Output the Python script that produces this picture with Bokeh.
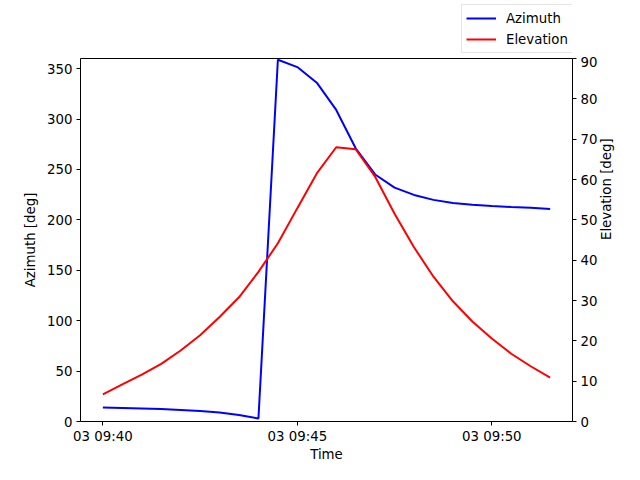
import math
import datetime as dt
from bokeh.plotting import figure
from bokeh.layouts import column
from bokeh.models import (Range1d, LinearAxis, FixedTicker, DatetimeTickFormatter,
                          Legend, LegendItem, ColumnDataSource)
from bokeh.embed import file_html
from bokeh.resources import INLINE

# ---- data ----
start = dt.datetime(2024, 1, 3, 9, 40, 0)
step_seconds = 30
azimuth = [14.0, 13.5, 13.0, 12.3, 11.5, 10.5, 9.0, 6.5, 3.0,
           358.7, 351.5, 336.0, 309.0, 271.0, 245.0, 232.0, 224.7,
           219.8, 216.6, 215.0, 213.7, 212.7, 212.0, 210.7]
elevation = [6.75, 9.2, 11.6, 14.3, 17.6, 21.4, 25.9, 30.8, 37.1,
             44.2, 52.9, 61.5, 68.0, 67.5, 60.7, 51.5, 43.2, 35.9,
             29.8, 24.8, 20.6, 16.8, 13.7, 10.9]
times = [start + dt.timedelta(seconds=step_seconds * i) for i in range(len(azimuth))]
x_ticks = [dt.datetime(2024, 1, 3, 9, 40), dt.datetime(2024, 1, 3, 9, 45),
           dt.datetime(2024, 1, 3, 9, 50)]
az_ticks = [0, 50, 100, 150, 200, 250, 300, 350]
el_ticks = [0, 10, 20, 30, 40, 50, 60, 70, 80, 90]
series_labels = ["Azimuth", "Elevation"]
series_colors = ["blue", "red"]

FONT = "DejaVu Sans"
FS = "10pt"
W = 624
LEG_H = 56
MAIN_H = 464 - LEG_H
BL, BR = 80, 48

def ms(t):
    return (t - dt.datetime(1970, 1, 1)).total_seconds() * 1000.0

span = ms(times[-1]) - ms(times[0])
pad = span * 0.05

src = ColumnDataSource(dict(t=times, az=azimuth, el=elevation))

# ---- main figure ----
p = figure(width=W, height=MAIN_H, x_axis_type="datetime",
           x_range=Range1d(ms(times[0]) - pad, ms(times[-1]) + pad),
           y_range=Range1d(0, 360),
           output_backend="svg", toolbar_location=None,
           min_border_left=BL, min_border_right=BR, min_border_top=2, min_border_bottom=40)
p.extra_y_ranges = {"elev": Range1d(0, 90)}
p.grid.visible = False
p.outline_line_color = "black"
p.outline_line_width = 1
p.background_fill_color = "white"
p.border_fill_color = "white"

p.line("t", "az", source=src, line_color=series_colors[0], line_width=2)
p.line("t", "el", source=src, line_color=series_colors[1], line_width=2, y_range_name="elev")

right = LinearAxis(y_range_name="elev")
p.add_layout(right, "right")

p.xaxis.ticker = FixedTicker(ticks=[ms(t) for t in x_ticks])
p.xaxis.formatter = DatetimeTickFormatter(minutes="%d %H:%M", hours="%d %H:%M",
                                          seconds="%d %H:%M", minsec="%d %H:%M",
                                          hourmin="%d %H:%M")
p.yaxis[0].ticker = FixedTicker(ticks=az_ticks)
right.ticker = FixedTicker(ticks=el_ticks)

p.xaxis.axis_label = "Time"
p.yaxis[0].axis_label = "Azimuth [deg]"
right.axis_label = "Elevation [deg]"

for ax in p.xaxis + p.yaxis:
    ax.axis_line_color = None
    ax.major_tick_line_color = "black"
    ax.major_tick_in = 0
    ax.major_tick_out = 4
    ax.minor_tick_line_color = None
    ax.major_label_text_font = FONT
    ax.major_label_text_font_size = FS
    ax.major_label_text_color = "black"
    ax.axis_label_text_font = FONT
    ax.axis_label_text_font_size = FS
    ax.axis_label_text_font_style = "normal"
    ax.axis_label_text_color = "black"
    ax.major_label_standoff = 4
    ax.axis_label_standoff = 6

p.xaxis.major_label_standoff = 3
p.xaxis.axis_label_standoff = 0
right.axis_label_orientation = math.pi / 2

# ---- legend strip above the plot (same side borders as the main figure) ----
lf = figure(width=W, height=LEG_H, x_range=Range1d(0, 1), y_range=Range1d(0, 1),
            x_axis_location=None, y_axis_location=None,
            output_backend="svg", toolbar_location=None,
            min_border_left=BL, min_border_right=BR,
            min_border_top=0, min_border_bottom=0)
lf.grid.visible = False
lf.outline_line_color = None
lf.background_fill_color = "white"
lf.border_fill_color = "white"
items = []
for lab, col in zip(series_labels, series_colors):
    # proxy renderers (outside the visible range) so the legend can draw its samples
    r = lf.line(x=[5, 6], y=[5, 6], line_color=col, line_width=2)
    items.append(LegendItem(label=lab, renderers=[r]))

legend = Legend(items=items, location=(381, 3))
legend.label_text_font = FONT
legend.label_text_font_size = FS
legend.label_text_color = "black"
legend.glyph_width = 30
legend.glyph_height = 18
legend.label_height = 18
legend.spacing = 3
legend.padding = 4
legend.margin = 0
legend.label_standoff = 10
legend.border_line_color = "#cccccc"
legend.border_line_width = 1
legend.background_fill_alpha = 1.0
lf.add_layout(legend, "center")

layout = column(lf, p, spacing=0)
open("out.html", "w").write(file_html(layout, INLINE))
